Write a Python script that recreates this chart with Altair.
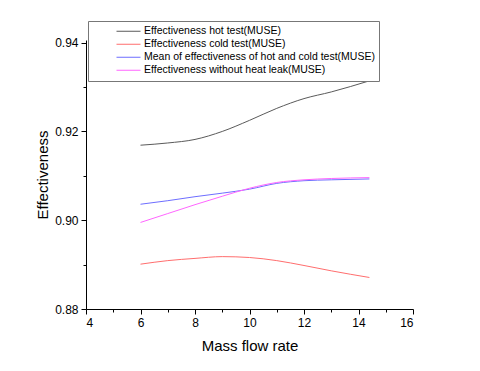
import altair as alt
import pandas as pd

mass_flow = [6, 7, 8, 9, 10, 11, 12, 13, 14.4]
hot = [0.9169, 0.9174, 0.9182, 0.9200, 0.9225, 0.9252, 0.9274, 0.9289, 0.9314]
cold = [0.8901, 0.8909, 0.8914, 0.8918, 0.8916, 0.8909, 0.8898, 0.8886, 0.8871]
mean = [0.9036, 0.9044, 0.9053, 0.9061, 0.9070, 0.9083, 0.9089, 0.9091, 0.9093]
no_leak = [0.8995, 0.9015, 0.9035, 0.9054, 0.9072, 0.9085, 0.9091, 0.9094, 0.9096]

series_names = [
    "Effectiveness hot test(MUSE)",
    "Effectiveness cold test(MUSE)",
    "Mean of effectiveness of hot and cold test(MUSE)",
    "Effectiveness without heat leak(MUSE)",
]
series_colors = ["#5a5a5a", "#ff6e6e", "#6e6eff", "#ff66ff"]
x_ticks = list(range(4, 17))
y_ticks = [0.88, 0.89, 0.90, 0.91, 0.92, 0.93, 0.94]

rows = []
for name, vals in zip(series_names, [hot, cold, mean, no_leak]):
    for x, y in zip(mass_flow, vals):
        rows.append({"series": name, "x": x, "y": y})
df = pd.DataFrame(rows)

font = "Liberation Sans"

chart = alt.Chart(df).mark_line(interpolate="monotone", strokeWidth=1).encode(
    x=alt.X("x:Q",
            scale=alt.Scale(domain=[4, 16], nice=False, zero=False),
            axis=alt.Axis(
                title="Mass flow rate", values=x_ticks,
                labelExpr="datum.value % 2 === 0 ? datum.label : ''",
                tickSize={"condition": {"test": "datum.value % 2 === 0", "value": 5}, "value": 3},
                grid=False, domainColor="black", tickColor="black",
                labelColor="black", titleColor="black",
                labelFont=font, titleFont=font, labelFontSize=12, titleFontSize=15,
                titleFontWeight="normal", labelPadding=3, titlePadding=10,
            )),
    y=alt.Y("y:Q",
            scale=alt.Scale(domain=[0.88, 0.9406], nice=False, zero=False),
            axis=alt.Axis(
                title="Effectiveness", values=y_ticks, format=".2f",
                labelExpr="round(datum.value * 100) % 2 === 0 ? datum.label : ''",
                tickSize={"condition": {"test": "round(datum.value * 100) % 2 === 0", "value": 5}, "value": 3},
                grid=False, domainColor="black", tickColor="black",
                labelColor="black", titleColor="black",
                labelFont=font, titleFont=font, labelFontSize=12, titleFontSize=15,
                titleFontWeight="normal", labelPadding=3, titlePadding=4,
            )),
    color=alt.Color("series:N",
                    scale=alt.Scale(domain=series_names, range=series_colors),
                    legend=alt.Legend(
                        title=None, orient="none", legendX=2, legendY=-19,
                        symbolType="M0,0L1,0", symbolSize=2304, symbolStrokeWidth=1,
                        labelOffset=3, labelFont=font, labelFontSize=10.5, labelColor="black",
                        labelExpr="datum.label + '\u00a0\u00a0\u00a0'",
                        clipHeight=12.5, rowPadding=0, padding=4,
                        strokeColor="#777777", fillColor="white", labelLimit=400,
                    )),
).properties(
    width=327, height=269,
    autosize=alt.AutoSizeParams(type="none"),
    padding={"left": 78, "top": 32, "right": 40, "bottom": 50},
).configure_view(stroke=None)

chart.save("out.html", embed_options={"renderer": "svg", "actions": False})
